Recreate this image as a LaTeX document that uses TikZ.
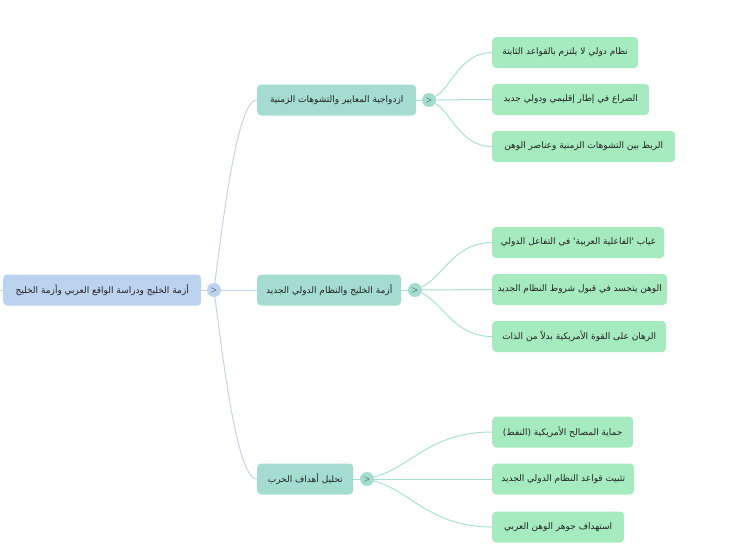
\documentclass[tikz,border=0pt]{standalone}
\usepackage{fontspec}
\newfontfamily\arabicfont[Script=Arabic]{DejaVu Sans}
\TeXXeTstate=1
\definecolor{rootfill}{HTML}{BCD3EF}
\definecolor{rootline}{HTML}{C3D3EA}
\definecolor{bfill}{HTML}{A4DDCF}
\definecolor{bline}{HTML}{A8E0CF}
\definecolor{leaffill}{HTML}{A6EBC0}
\definecolor{txt}{HTML}{222222}
\newcommand{\ar}[1]{{\arabicfont\beginR #1\endR}}
\begin{document}
\begin{tikzpicture}[x=1pt,y=-1pt,
  box/.style={anchor=west,rounded corners=4pt,minimum height=31pt,inner sep=0pt,
    text=txt,font=\fontsize{9}{10}\selectfont},
  rootbox/.style={box,fill=rootfill},
  brbox/.style={box,fill=bfill},
  leafbox/.style={box,fill=leaffill},
  tog/.style={circle,minimum size=14pt,inner sep=0pt,text=txt,
    font=\sffamily\fontsize{8}{8}\selectfont},
  rootconn/.style={draw=rootline,line width=1pt},
  brconn/.style={draw=bline,line width=1pt}]
\useasboundingbox (0,0) rectangle (743,549);

% nodes
\node[rootbox,minimum width=198pt] (root) at (3,290) {\ar{أزمة الخليج ودراسة الواقع العربي وأزمة الخليج}};
\node[tog,fill=rootfill] (rc) at (214,290) {>};
\coordinate (stub) at (0,290);

\node[brbox,minimum width=159pt] (b1) at (257,100) {\ar{ازدواجية المعايير والتشوهات الزمنية}};
\node[brbox,minimum width=144pt] (b2) at (257,290) {\ar{أزمة الخليج والنظام الدولي الجديد}};
\node[brbox,minimum width=96pt] (b3) at (257,479) {\ar{تحليل أهداف الحرب}};

\node[tog,fill=bfill] (c1) at (429,100) {>};
\node[tog,fill=bfill] (c2) at (415,290) {>};
\node[tog,fill=bfill] (c3) at (367,479) {>};

\node[leafbox,minimum width=146pt] (l1) at (492,52.5) {\ar{نظام دولي لا يلتزم بالقواعد الثابتة}};
\node[leafbox,minimum width=157pt] (l2) at (492,99.5) {\ar{الصراع في إطار إقليمي ودولي جديد}};
\node[leafbox,minimum width=183pt] (l3) at (492,146.5) {\ar{الربط بين التشوهات الزمنية وعناصر الوهن}};

\node[leafbox,minimum width=172pt] (l4) at (492,242.5) {\ar{غياب 'الفاعلية العربية' في التفاعل الدولي}};
\node[leafbox,minimum width=175pt] (l5) at (492,289.5) {\ar{الوهن يتجسد في قبول شروط النظام الجديد}};
\node[leafbox,minimum width=174pt] (l6) at (492,336.5) {\ar{الرهان على القوة الأمريكية بدلاً من الذات}};

\node[leafbox,minimum width=141pt] (l7) at (492,432) {\ar{حماية المصالح الأمريكية (النفط)}};
\node[leafbox,minimum width=142pt] (l8) at (492,479) {\ar{تثبيت قواعد النظام الدولي الجديد}};
\node[leafbox,minimum width=132pt] (l9) at (492,527) {\ar{استهداف جوهر الوهن العربي}};

% connectors (root level)
\draw[rootconn] (root.west) -- (stub);
\draw[rootconn] (root.east) -- (rc);
\draw[rootconn] (rc) .. controls +(12,-95) and +(-18,0) .. (b1.west);
\draw[rootconn] (rc) -- (b2.west);
\draw[rootconn] (rc) .. controls +(12,95) and +(-18,0) .. (b3.west);

% connectors (branch level)
\draw[brconn] (b1.east) -- (c1);
\draw[brconn] (b2.east) -- (c2);
\draw[brconn] (b3.east) -- (c3);

\draw[brconn] (c1) .. controls +(22,-12) and +(-32,0) .. (l1.west);
\draw[brconn] (c1) -- (l2.west);
\draw[brconn] (c1) .. controls +(22,12) and +(-32,0) .. (l3.west);

\draw[brconn] (c2) .. controls +(27,-12) and +(-38,0) .. (l4.west);
\draw[brconn] (c2) -- (l5.west);
\draw[brconn] (c2) .. controls +(27,12) and +(-38,0) .. (l6.west);

\draw[brconn] (c3) .. controls +(44,-12) and +(-62,0) .. (l7.west);
\draw[brconn] (c3) -- (l8.west);
\draw[brconn] (c3) .. controls +(44,12) and +(-62,0) .. (l9.west);
\end{tikzpicture}
\end{document}
